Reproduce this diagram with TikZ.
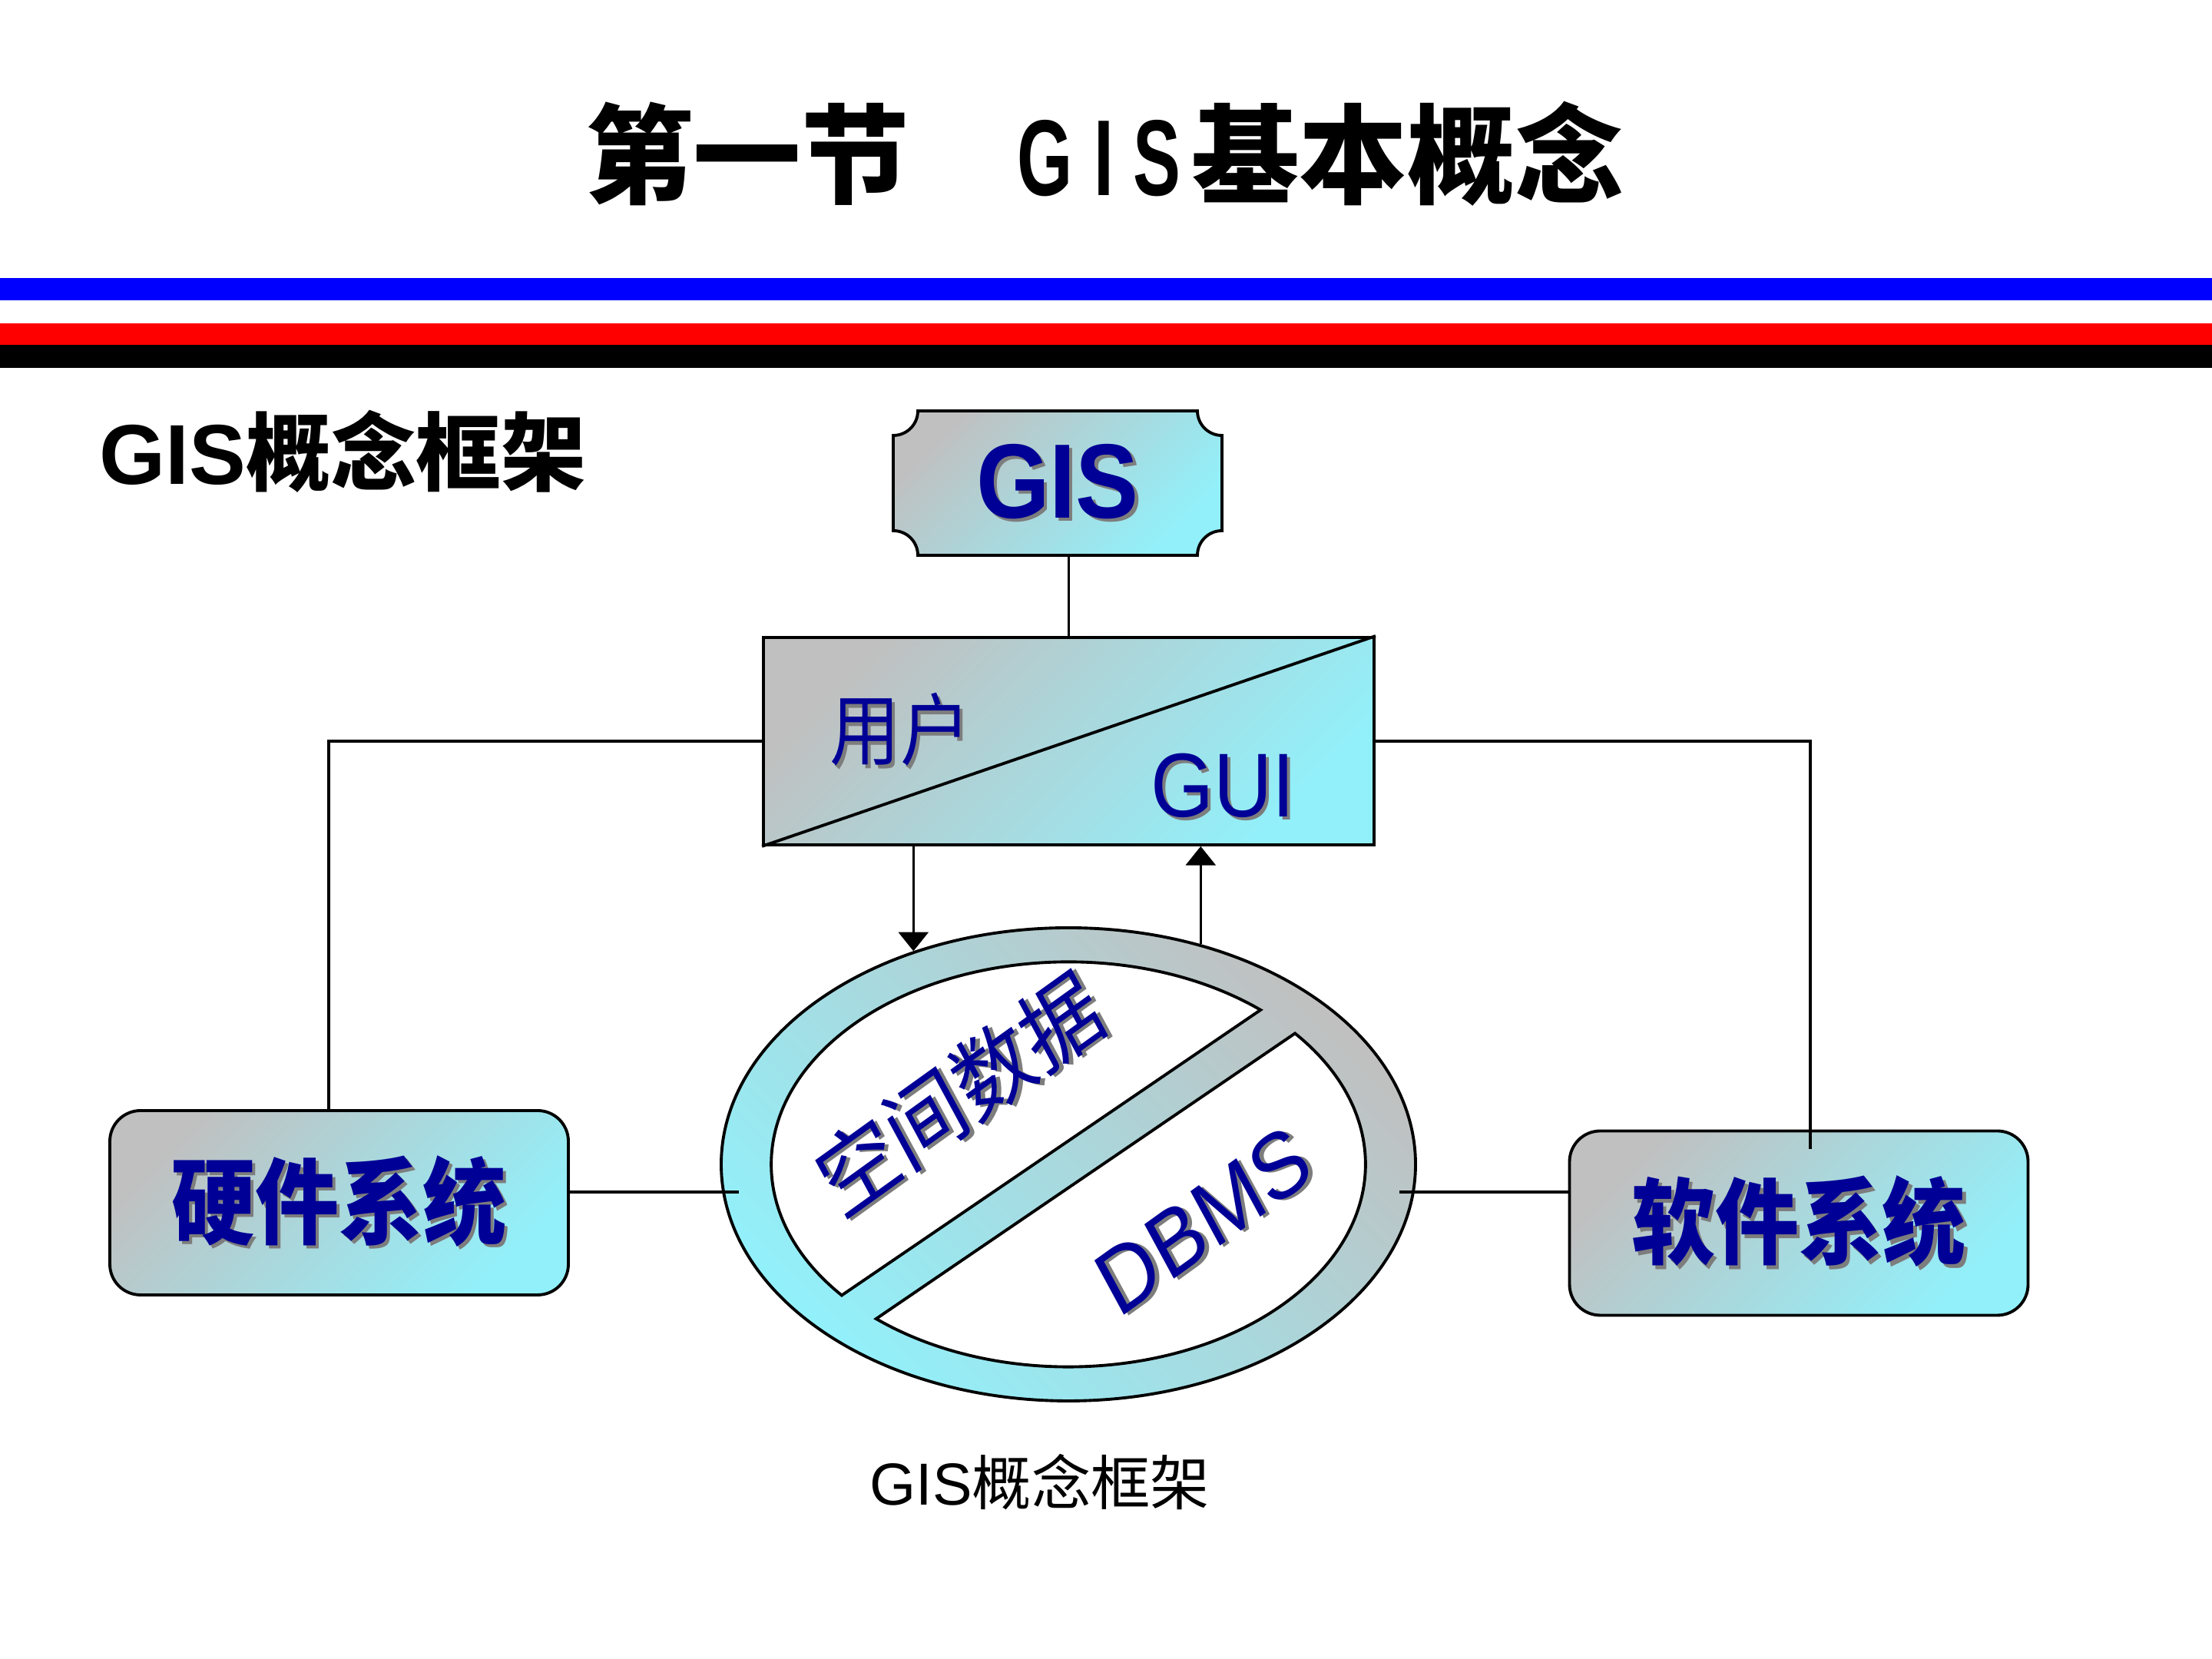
\documentclass[tikz,border=0pt]{standalone}
\usepackage{fontspec}
\setmainfont{Liberation Sans}
\newfontfamily\cjk{Noto Sans CJK SC}
\usepackage{tikz}
\usetikzlibrary{shapes.geometric,arrows.meta,backgrounds}
\usetikzlibrary{positioning}
\definecolor{txtblue}{RGB}{0,0,150}
\definecolor{txtshadow}{RGB}{125,125,125}
\definecolor{boxgray}{RGB}{192,192,192}
\definecolor{boxcyan}{RGB}{146,240,250}
\newcommand{\shadowed}[1]{\makebox[0pt][l]{\hspace{1.2pt}\raisebox{-1.2pt}{\color{txtshadow}#1}}{\color{txtblue}#1}}
\newcommand{\shtext}[1]{\scalebox{1}[1.12]{\shadowed{#1}}}

\begin{document}
\begin{tikzpicture}[link/.style={line width=1pt},
    arr/.style={link,-{Triangle[width=11pt,length=7pt]}},
    shadebox/.style={draw,line width=1.1pt,top color=boxgray,bottom color=boxcyan,shading angle=45},
    sysbox/.style={shadebox,rounded corners=0.4cm,minimum width=5.97cm,minimum height=2.4cm},
    ringtext/.style={inner sep=0pt,yscale=1.15,rotate=32}]
    \useasboundingbox (0,0) rectangle (28.8,21.6);
    \begin{scope}[on background layer]
        \fill[white] (0,0) rectangle (28.8,21.6);
    \end{scope}

    \node[inner sep=0pt] (title) at (14.38,19.6) {\fontsize{40}{40}\selectfont\bfseries{\cjk 第一节}\hspace{1.0em}\scalebox{0.66}[1]{G\hspace{0.3em}I\hspace{0.27em}S}\hspace{0.1em}{\cjk 基本概念}};
    \fill[blue] (0,17.69) rectangle (28.8,17.98);
    \fill[red] (0,17.11) rectangle (28.8,17.39);
    \fill[black] (0,16.81) rectangle (28.8,17.11);
    \node[inner sep=0pt,anchor=west] (label) at (1.29,15.72) {\fontsize{31.5}{31.5}\selectfont\bfseries GIS{\cjk 概念框架}};

    \node[minimum width=4.28cm,minimum height=1.88cm,inner sep=0pt,outer sep=0pt] (gis) at (13.77,15.31) {\shtext{\fontsize{35}{35}\selectfont\bfseries GIS}};
    \begin{scope}[on background layer]
        \shade[draw,line width=1.1pt,top color=boxgray,bottom color=boxcyan,shading angle=45]
            ([xshift=0.32cm]gis.north west) -- ([xshift=-0.32cm]gis.north east)
            arc[start angle=180,end angle=270,radius=0.32cm] -- ([yshift=0.32cm]gis.south east)
            arc[start angle=90,end angle=180,radius=0.32cm] -- ([xshift=0.32cm]gis.south west)
            arc[start angle=0,end angle=90,radius=0.32cm] -- ([yshift=-0.32cm]gis.north west)
            arc[start angle=270,end angle=360,radius=0.32cm] -- cycle;
    \end{scope}

    \node[shadebox,minimum width=7.95cm,minimum height=2.7cm] (user) at (13.915,11.95) {};
    \draw[line width=1.1pt] (user.south west) -- (user.north east);
    \node[inner sep=0pt] (yonghu) at (11.72,12.08) {\shtext{\fontsize{26}{26}\selectfont\cjk 用户}};
    \node[inner sep=0pt] (gui) at (15.92,11.35) {\shtext{\fontsize{30}{30}\selectfont GUI}};

    \node[ellipse,shadebox,shading angle=-45,minimum width=9.04cm,minimum height=6.16cm,inner sep=0pt] (sdata) at (13.91,6.44) {};
    \begin{scope}[shift={(sdata.center)},xscale=4.52,yscale=3.08]
        \filldraw[fill=white,line width=1.1pt] (49.7:0.856) arc[start angle=49.7,end angle=220.3,radius=0.856] -- cycle;
        \filldraw[fill=white,line width=1.1pt] (229.7:0.856) arc[start angle=229.7,end angle=400.3,radius=0.856] -- cycle;
    \end{scope}
    \node[ringtext] (spatial) at ([shift={(-1.41,0.9)}]sdata.center) {\shadowed{\fontsize{29.5}{29.5}\selectfont\cjk 空间数据}};
    \node[ringtext] (dbms) at ([shift={(1.77,-0.75)}]sdata.center) {\shadowed{\fontsize{30}{30}\selectfont DBMS}};

    \node[sysbox] (hard) at (4.415,5.94) {\shtext{\fontsize{31}{31}\selectfont\bfseries\cjk 硬件系统}};
    \node[sysbox] (soft) at (23.42,5.675) {\shtext{\fontsize{31}{31}\selectfont\bfseries\cjk 软件系统}};

    \coordinate (ringL) at ([shift={(0.25,-0.36)}]sdata.west);
    \coordinate (ringR) at ([shift={(-0.23,-0.36)}]sdata.east);
    \draw[link] (user.north) -- (user.north |- gis.south);
    \draw[link] (user.west) -| ([xshift=-0.135cm]hard.north);
    \draw[link] (user.east) -| ([xshift=0.15cm,yshift=-0.25cm]soft.north);
    \draw[link] (hard.east |- ringL) -- (ringL);
    \draw[link] (ringR) -- (soft.west |- ringR);
    \draw[arr] (user.south -| sdata.126) -- (sdata.126);
    \draw[arr] (sdata.59) -- (sdata.59 |- user.south);

    \node[inner sep=0pt] (caption) at (13.54,2.30) {\fontsize{22}{22}\selectfont GIS{\cjk 概念框架}};
\end{tikzpicture}
\end{document}
